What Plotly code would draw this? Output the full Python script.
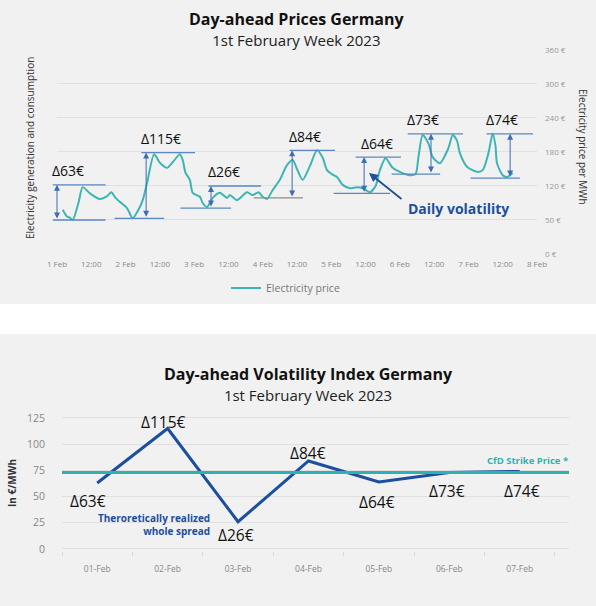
import pandas as pd
import plotly.graph_objects as go

W, H = 596, 606

# ---------------- Top chart data ----------------
price_hours = [2, 3.5, 4.5, 5.5, 7.5, 9, 11.5, 15, 17.5, 19, 20.5, 22, 24.5, 26.5, 28.5,
               30, 31.5, 34, 36, 38.5, 40.5, 43, 44, 45, 46.5, 47.5, 50, 51, 52.5, 54.5,
               57, 59.5, 60.5, 63, 66.5, 68.5, 70.5, 72, 73.5, 75.5, 78, 80.5, 82.5, 84, 86,
               88.5, 91, 93, 94.5, 96.5, 98, 100, 102.5, 105, 107, 109.5, 111.5, 113, 115, 117.5,
               120, 123.5, 125.5, 126.5, 128, 130, 131.5, 134, 137, 138.5, 140, 141, 143.5, 147, 149,
               151, 152.5, 153.5, 154, 156, 157.5, 159.5]
price_values = [78, 66, 64, 60, 90, 118, 107, 97, 102, 109, 99, 92, 81, 63, 78,
                95, 125, 176, 161, 152, 162, 176, 166, 143, 131, 108, 101, 90, 83, 99,
                108, 99, 104, 95, 109, 104, 109, 101, 97, 113, 131, 157, 166, 150, 131,
                155, 183, 170, 148, 140, 136, 122, 116, 118, 116, 109, 120, 148, 169, 152,
                145, 139, 141, 171, 210, 195, 171, 160, 187, 210, 200, 178, 154, 145, 148,
                178, 212, 190, 160, 139, 136, 143]
assert len(price_hours) == len(price_values)

top_tick_labels = ["1 Feb", "12:00", "2 Feb", "12:00", "3 Feb", "12:00", "4 Feb", "12:00",
                   "5 Feb", "12:00", "6 Feb", "12:00", "7 Feb", "12:00", "8 Feb"]
price_tick_values = [0, 60, 120, 180, 240, 300, 360]
price_tick_text = ["0 €", "50 €", "120 €", "180 €", "240 €", "300 €", "360 €"]

vol_labels = ["Δ63€", "Δ115€", "Δ26€", "Δ84€", "Δ64€", "Δ73€", "Δ74€"]
vol_top = [122, 179, 120, 183, 171, 212, 212]
vol_bottom = [60, 63, 81, 99, 107, 141, 134]
vol_top_start = [-2, 29, 52.5, 80.9, 104, 122.2, 149.8]
vol_top_end = [17, 48.3, 71.4, 97.3, 120.4, 142.1, 166.6]
vol_bottom_start = [-2, 19.6, 42.7, 68.3, 96.3, 116.6, 144.2]
vol_bottom_end = [17, 37.5, 60.9, 86.1, 116.6, 134.1, 162]
vol_arrow_hour = [0, 31.2, 53.9, 82.3, 107.5, 130.9, 158.6]
vol_label_hour = [-2, 29, 52.5, 80.9, 106, 122.2, 149.8]

callout_text_hour, callout_text_value = 122.2, 81
callout_tail = (121.1, 95)
callout_head = (109.2, 143)

# ---------------- Bottom chart data ----------------
days = ["01-Feb", "02-Feb", "03-Feb", "04-Feb", "05-Feb", "06-Feb", "07-Feb"]
daily_spread = [63, 115, 26, 84, 64, 73, 74]
spread_labels = ["Δ63€", "Δ115€", "Δ26€", "Δ84€", "Δ64€", "Δ73€", "Δ74€"]
strike_price = 73
spread_ticks = [0, 25, 50, 75, 100, 125]

# ---------------- styles ----------------
FONT = "Open Sans"
BG = "#f1f1f1"
GRID = "#e0e0e0"
TEAL = "#3db6b3"
STRIKE = "#2eb1b1"
DARKBLUE = "#1c4f9e"
LINEBLUE = "#5a88c4"
ARROWBLUE = "#3d6db4"
GREYLINE = "#8c8c8c"

PX_PER_HOUR = 480 / 168.0

base = pd.Timestamp("2023-02-01")
def T(h):
    return (base + pd.to_timedelta(h, unit="h")).strftime("%Y-%m-%d %H:%M:%S")

fig = go.Figure()
fig.add_trace(go.Scatter(
    x=[T(h) for h in price_hours], y=price_values, mode="lines",
    name="Electricity price",
    line=dict(color=TEAL, width=2, shape="spline", smoothing=0.7),
    xaxis="x", yaxis="y", hoverinfo="skip"))
fig.add_trace(go.Scatter(
    x=list(range(len(days))), y=daily_spread, mode="lines",
    line=dict(color=DARKBLUE, width=3), showlegend=False,
    xaxis="x2", yaxis="y2", hoverinfo="skip"))

ann = []
def text_ann(txt, x, y, size, color="#111", bold=False, xanchor="center", angle=0, align="center"):
    ann.append(dict(text=f"<b>{txt}</b>" if bold else txt, x=x / W, y=1 - y / H,
                    xref="paper", yref="paper", showarrow=False, xanchor=xanchor,
                    yanchor="middle", textangle=angle, align=align,
                    font=dict(family=FONT, size=size, color=color)))

# titles (title + subtitle as one two-line block)
SUB = "<span style='font-size:15px;color:#222'>{}</span>"
text_ann("<b>Day-ahead Prices Germany</b><br>" + SUB.format("1st February Week 2023"),
         296.5, 29, 16)
text_ann("<b>Day-ahead Volatility Index Germany</b><br>" + SUB.format("1st February Week 2023"),
         309, 384, 16)
text_ann("Electricity generation and consumption", 30, 148, 10, color="#333", angle=-90)
text_ann("Electricity price per MWh", 583, 147, 10, color="#333", angle=90)
text_ann("In €/MWh", 12, 483, 10, color="#333", bold=True, angle=-90)
text_ann("CfD Strike Price *", 570, 460, 9.5, color=STRIKE, bold=True, xanchor="right")
text_ann("Theroretically realized<br>whole spread", 212, 524.5, 10, color=DARKBLUE,
         bold=True, xanchor="right", align="right")

# top chart volatility markers
def seg(x0, y0, x1, y1, color, width, head=0, side="end", size=1):
    ann.append(dict(x=T(x1), y=y1, ax=T(x0), ay=y0, xref="x", yref="y",
                    axref="x", ayref="y", text="", showarrow=True, arrowhead=head,
                    arrowside=side, arrowsize=size, arrowwidth=width,
                    arrowcolor=color, standoff=0, startstandoff=0))

for i, lab in enumerate(vol_labels):
    seg(vol_top_start[i], vol_top[i], vol_top_end[i], vol_top[i], LINEBLUE, 1.3)
    seg(vol_bottom_start[i], vol_bottom[i], vol_bottom_end[i], vol_bottom[i],
        GREYLINE if i == 3 else LINEBLUE, 1.3)
    seg(vol_arrow_hour[i], vol_bottom[i], vol_arrow_hour[i], vol_top[i], ARROWBLUE, 1,
        head=2, side="end+start", size=1.2)
    h = vol_label_hour[i]
    hc = max(h, 0)   # keep anchor inside the axis range; shift the rest in pixels
    ann.append(dict(text=lab, x=T(hc), y=vol_top[i], xref="x", yref="y",
                    showarrow=False, xanchor="left", yanchor="middle", yshift=14,
                    xshift=(h - hc) * PX_PER_HOUR - 1,
                    font=dict(family=FONT, size=14, color="#111")))

ann.append(dict(text="<b>Daily volatility</b>", x=T(callout_text_hour), y=callout_text_value,
                xref="x", yref="y", showarrow=False, xanchor="left", yanchor="middle",
                font=dict(family=FONT, size=14, color=DARKBLUE)))
seg(callout_tail[0], callout_tail[1], callout_head[0], callout_head[1], DARKBLUE, 1.8,
    head=2, size=1)

# bottom chart labels
offsets = [(-9, -18), (-4, 6), (-2, -13), (0, 8), (-2, -20), (-2, -19), (2, -20)]
for i, lab in enumerate(spread_labels):
    ann.append(dict(text=lab, x=i, y=daily_spread[i], xref="x2", yref="y2", showarrow=False,
                    xanchor="center", yanchor="middle", xshift=offsets[i][0], yshift=offsets[i][1],
                    font=dict(family=FONT, size=15.5, color="#111")))

shapes = [
    dict(type="rect", xref="paper", yref="paper", x0=0, x1=1, y0=1 - 334 / H, y1=1 - 304 / H,
         fillcolor="white", line=dict(width=0), layer="below"),
    dict(type="line", xref="x2 domain", yref="y2", x0=0, x1=1, y0=strike_price, y1=strike_price,
         line=dict(color=STRIKE, width=3), layer="above"),
]

top_px = 0.5667   # px per euro in top chart
bot_px = 1.048
fig.update_layout(
    width=W, height=H, autosize=False,
    margin=dict(l=0, r=0, t=0, b=0, autoexpand=False),
    paper_bgcolor=BG, plot_bgcolor="rgba(0,0,0,0)",
    font=dict(family=FONT),
    showlegend=True,
    legend=dict(orientation="h", x=226 / W, xanchor="left", y=1 - 288 / H, yanchor="middle",
                font=dict(family=FONT, size=10.5, color="#777"), bgcolor="rgba(0,0,0,0)"),
    xaxis=dict(domain=[57 / W, 537 / W], type="date", anchor="y", automargin=False,
               range=[T(0), T(168)],
               tickmode="array", tickvals=[T(12 * k) for k in range(15)], ticktext=top_tick_labels,
               showgrid=False, zeroline=False, showline=False, ticks="",
               tickfont=dict(family=FONT, size=8, color="#8a8a8a"), ticklabelstandoff=3),
    yaxis=dict(domain=[1 - (254 + 1.5 * top_px) / H, 1 - (50 - 1.5 * top_px) / H], anchor="x",
               automargin=False, range=[-1.5, 361.5], side="right",
               tickmode="array", tickvals=price_tick_values, ticktext=price_tick_text,
               showgrid=True, gridcolor=GRID, gridwidth=1, zeroline=False, showline=False,
               ticks="", tickfont=dict(family=FONT, size=8, color="#999"), ticklabelstandoff=7),
    xaxis2=dict(domain=[62 / W, 569 / W], anchor="y2", range=[-0.5, 6.7], automargin=False,
                tickmode="array", tickvals=list(range(len(days))), ticktext=days,
                showgrid=False, zeroline=False, showline=False, ticks="",
                tickfont=dict(family=FONT, size=8.5, color="#888"), ticklabelstandoff=12,
                minor=dict(tickmode="linear", tick0=-0.5, dtick=1, ticks="outside",
                           ticklen=4, tickcolor="#dadada", showgrid=False)),
    yaxis2=dict(domain=[1 - (549 + 1.5 * bot_px) / H, 1 - (418 - 1.5 * bot_px) / H], anchor="x2",
                automargin=False, range=[-1.5, 126.5], tickmode="array", tickvals=spread_ticks,
                showgrid=True, gridcolor=GRID, gridwidth=1, zeroline=False, showline=False,
                ticks="", tickfont=dict(family=FONT, size=10.5, color="#888"), ticklabelstandoff=16),
    annotations=ann,
    shapes=shapes,
)

fig.write_html(
    "out.html",
    config={"displayModeBar": False},
    post_script="document.body.style.margin='0';document.body.style.overflow='hidden';"
                "document.documentElement.style.overflow='hidden';",
)
